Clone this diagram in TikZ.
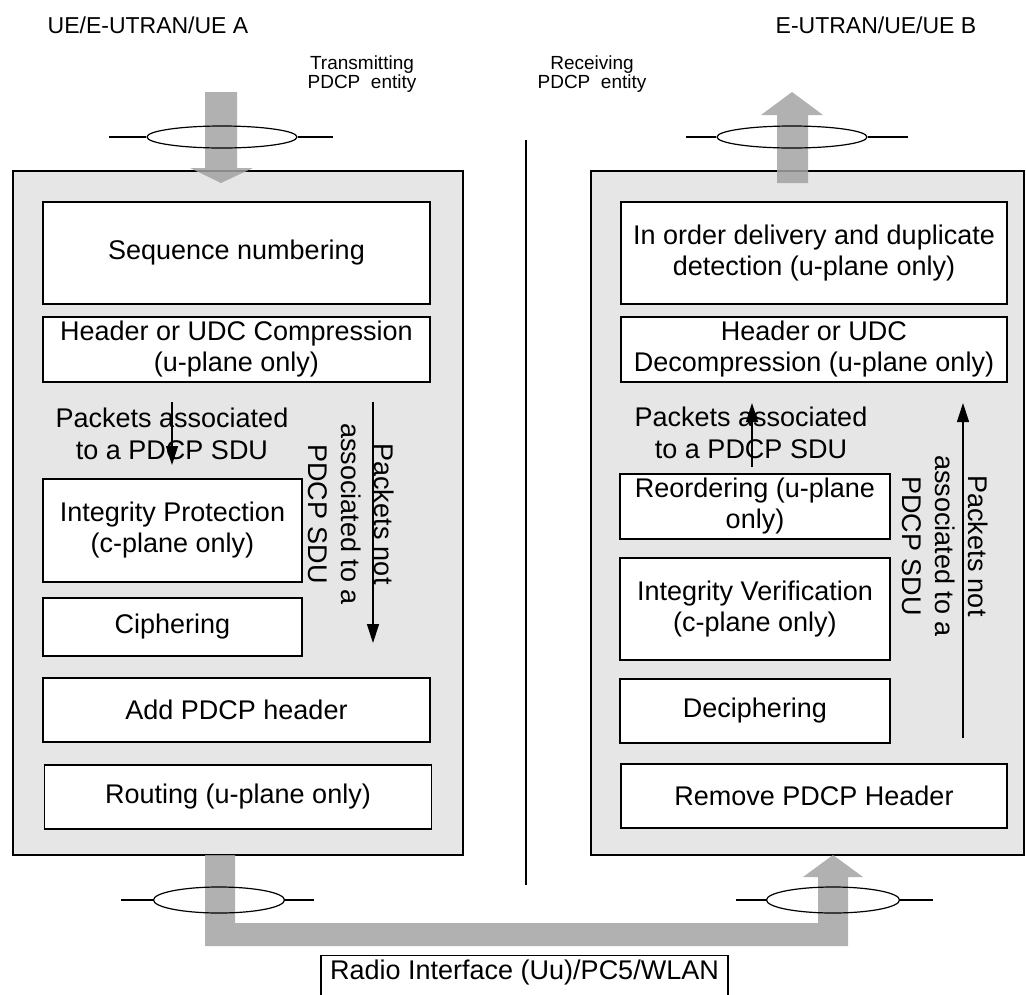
\documentclass[tikz,border=0pt]{standalone}
\usepackage{fontspec}
\setmainfont{Liberation Sans}
\usetikzlibrary{arrows.meta,shapes.geometric}
\definecolor{boxgray}{HTML}{E6E6E6}
\definecolor{arrowgray}{HTML}{A3A3A3}
\begin{document}
\begin{tikzpicture}[x=1pt,y=-1pt,
  outer/.style={draw=black, line width=1.5pt, fill=boxgray, inner sep=0pt},
  blk/.style={draw=black, line width=1.2pt, fill=white, align=center, font=\fontsize{27}{31}\selectfont, inner sep=0pt},
  thinarrow/.style={line width=1.2pt, -{Triangle[length=19pt,width=12pt]}},
  lbl/.style={align=center, font=\fontsize{27}{32}\selectfont, inner sep=0pt},
  rlbl/.style={align=center, font=\fontsize{27}{33}\selectfont, inner sep=0pt, rotate=-90},
  small/.style={align=center, font=\fontsize{19}{19}\selectfont, inner sep=0pt},
  titlelbl/.style={font=\fontsize{23}{26}\selectfont, inner sep=0pt},
  bigarrow/.style={fill=arrowgray, fill opacity=0.85, draw=none},
  ring/.style={draw=black, line width=1.2pt, ellipse, inner sep=0pt},
  wire/.style={draw=black, line width=1.2pt}]

\useasboundingbox (0,0) rectangle (1026,994);
\clip (0,0) rectangle (1026,994);

% titles
\node[titlelbl] (tA) at (148,25) {UE/E-UTRAN/UE A};
\node[titlelbl] (tB) at (876,25) {E-UTRAN/UE/UE B};
\node[small] (tx) at (362,74) {Transmitting\\PDCP~~entity};
\node[small] (rx) at (592,74) {Receiving\\PDCP~~entity};

% divider
\coordinate (d1) at (526,140);
\coordinate (d2) at (526,885);
\draw[wire] (d1) -- (d2);

% outer boxes
\node[outer, minimum width=450pt, minimum height=684pt, anchor=north west] (txbox) at (12,170) {};
\node[outer, minimum width=433pt, minimum height=684pt, anchor=north west] (rxbox) at (590,170) {};

% big gray arrows
\fill[bigarrow] (205,92) -- (237,92) -- (237,168) -- (253,168) -- (221,183) -- (190,168) -- (205,168) -- cycle;
\fill[bigarrow] (777,183) -- (808,183) -- (808,115) -- (823,115) -- (792,92) -- (761,115) -- (777,115) -- cycle;
\fill[bigarrow] (205,855) -- (205,946) -- (848,946) -- (848,877) -- (863,877) -- (833,855) -- (803,877) -- (818,877) -- (818,923) -- (235,923) -- (235,855) -- cycle;

% rings with wires
\node[ring, minimum width=150pt, minimum height=22pt] (e1) at (222,137) {};
\coordinate (e1l) at (109,137); \coordinate (e1r) at (333,137);
\draw[wire] (e1l) -- (e1.west) (e1.east) -- (e1r);
\node[ring, minimum width=150pt, minimum height=22pt] (e2) at (792,137) {};
\coordinate (e2l) at (686,137); \coordinate (e2r) at (908,137);
\draw[wire] (e2l) -- (e2.west) (e2.east) -- (e2r);
\node[ring, minimum width=131pt, minimum height=26pt] (e3) at (219,900) {};
\coordinate (e3l) at (121,900); \coordinate (e3r) at (314,900);
\draw[wire] (e3l) -- (e3.west) (e3.east) -- (e3r);
\node[ring, minimum width=133pt, minimum height=26pt] (e4) at (833,900) {};
\coordinate (e4l) at (736,900); \coordinate (e4r) at (933,900);
\draw[wire] (e4l) -- (e4.west) (e4.east) -- (e4r);

% transmitting blocks
\node[blk, minimum width=387pt, minimum height=102pt] (seq) at (236.5,253) {Sequence numbering};
\node[blk, minimum width=387pt, minimum height=65pt] (hc) at (236.5,349.5) {Header or UDC Compression\\(u-plane only)};
\node[blk, minimum width=259pt, minimum height=103pt] (ip) at (172.5,530.5) {Integrity Protection\\(c-plane only)};
\node[blk, minimum width=259pt, minimum height=58pt] (ci) at (172.5,627) {Ciphering};
\node[blk, minimum width=387pt, minimum height=64pt] (ah) at (236.5,710) {Add PDCP header};
\node[blk, minimum width=387pt, minimum height=64pt] (ro) at (238,797) {Routing (u-plane only)};

% receiving blocks
\node[blk, minimum width=386pt, minimum height=102pt] (io) at (814,253) {In order delivery and duplicate\\detection (u-plane only)};
\node[blk, minimum width=386pt, minimum height=65pt] (hd) at (814,349.5) {Header or UDC\\Decompression (u-plane only)};
\node[blk, minimum width=270pt, minimum height=65pt] (re) at (755,506.5) {Reordering (u-plane\\only)};
\node[blk, minimum width=270pt, minimum height=102pt] (iv) at (755,609) {Integrity Verification\\(c-plane only)};
\node[blk, minimum width=270pt, minimum height=64pt] (de) at (755,711) {Deciphering};
\node[blk, minimum width=386pt, minimum height=64pt] (rm) at (814,796) {Remove PDCP Header};

% labels
\node[lbl] (pa1) at (172,434) {Packets associated\\to a PDCP SDU};
\node[rlbl] (pn1) at (351.5,514) {Packets not\\associated to a\\PDCP SDU};
\node[lbl] (pa2) at (751,433) {Packets associated\\to a PDCP SDU};
\node[rlbl] (pn2) at (945,546) {Packets not\\associated to a\\PDCP SDU};

% thin arrows
\coordinate (a1s) at (172,402); \coordinate (a1e) at (172,465);
\draw[thinarrow] (a1s) -- (a1e);
\coordinate (a2s) at (373,402); \coordinate (a2e) at (373,643);
\draw[thinarrow] (a2s) -- (a2e);
\coordinate (a3s) at (752,467); \coordinate (a3e) at (752,403);
\draw[thinarrow] (a3s) -- (a3e);
\coordinate (a4s) at (963,738); \coordinate (a4e) at (963,403);
\draw[thinarrow] (a4s) -- (a4e);

% radio interface
\node[draw=black, line width=1.2pt, fill=white, minimum width=407pt, minimum height=50pt, anchor=north, inner sep=0pt] (radio) at (524.5,955) {};
\node[font=\fontsize{27}{31}\selectfont, inner sep=0pt] (radiotxt) at (524.5,972) {Radio Interface (Uu)/PC5/WLAN};
\end{tikzpicture}
\end{document}
